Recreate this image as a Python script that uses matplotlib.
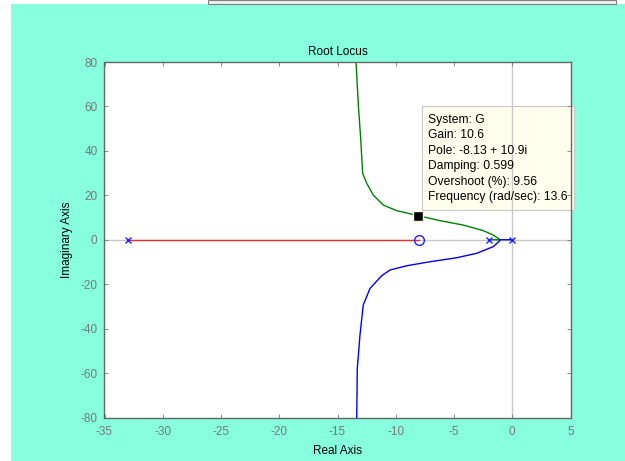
import numpy as np
import matplotlib.pyplot as plt
from matplotlib.patches import Rectangle

plt.rcParams['font.family'] = ['Liberation Sans', 'DejaVu Sans']
plt.rcParams['axes.unicode_minus'] = False

# poles / zero
poles = [-33, -2, 0]
zeros = [-8]

# branch along the real axis (pole -33 -> zero -8)
red_re = [-33, -8]
red_im = [0, 0]

# upper branch (green): from pole -2 to breakaway, then up
green_re = [-2.0, -1.05, -1.2, -1.63, -2.49, -4.2, -6.2, -8.13, -9.92, -11.07, -11.93, -12.49, -12.84, -13.01, -13.21, -13.41]
green_im = [0.0, 0.0, 0.6, 2.1, 4.1, 6.6, 8.6, 10.9, 13.1, 15.6, 20.1, 25.4, 29.9, 45.6, 60.6, 80.0]

# lower branch (blue): from pole 0 to breakaway, then down
blue_re = [0.0, -1.05, -1.1, -1.63, -3.05, -4.77, -7.06, -9.06, -10.49, -11.21, -12.21, -12.79, -13.07, -13.3, -13.35]
blue_im = [0.0, 0.0, -0.6, -3.1, -6.1, -8.1, -9.9, -11.7, -13.6, -16.2, -21.9, -29.4, -42.9, -57.9, -80.0]

# data cursor
cursor = (-8.13, 10.9)
cursor_text = ["System: G", "Gain: 10.6", "Pole: -8.13 + 10.9i", "Damping: 0.599",
               "Overshoot (%): 9.56", "Frequency (rad/sec): 13.6"]

xticks = [-35, -30, -25, -20, -15, -10, -5, 0, 5]
yticks = [-80, -60, -40, -20, 0, 20, 40, 60, 80]

W, H = 625, 461
fig = plt.figure(figsize=(W / 100, H / 100), dpi=100, facecolor='white')

# window background + top strip
fig.patches.append(Rectangle((11 / W, 0), 1 - 11 / W, (H - 4) / H, transform=fig.transFigure,
                             facecolor='#87ffde', edgecolor='none', zorder=-10))
fig.patches.append(Rectangle((208 / W, (H - 4) / H), 408 / W, 4 / H, transform=fig.transFigure,
                             facecolor='#f0f0f0', edgecolor='#808080', lw=0.8, zorder=-10))

ax = fig.add_axes([104.5 / W, (H - 417.5) / H, 466 / W, 355.5 / H])
ax.set_facecolor('white')

# tooltip box (under the grey origin line, sticks out past the right spine)
ax.add_patch(Rectangle((-7.75, 13.4), 13.05, 46.8, fc='#ffffee', ec='#c8c8c8', lw=0.8,
                       zorder=0.5, clip_on=False))

# grey reference lines through the origin
ax.axhline(0, color='#c8c8c8', lw=1, zorder=1)
ax.axvline(0, color='#c8c8c8', lw=1, zorder=1)

ax.plot(red_re, red_im, color='#dd3030', lw=1, zorder=2)
ax.plot(green_re, green_im, color='#008000', lw=1, zorder=2)
ax.plot(blue_re, blue_im, color='#0000ff', lw=1, zorder=2)

ax.plot(poles, [0] * len(poles), 'x', color='#2020ff', ms=4, mew=1, zorder=3)
ax.plot(zeros, [0] * len(zeros), 'o', mfc='none', mec='#2020ff', ms=7, mew=1, zorder=3)

ax.plot(cursor[0], cursor[1], 's', color='black', mec='#fffbd0', ms=7, mew=1, zorder=5)

for i, line in enumerate(cursor_text):
    ax.text(-7.25, 53.9 - i * 6.93, line, fontsize=8.7, va='center', ha='left', zorder=7)

ax.set_xlim(-35, 5)
ax.set_ylim(-80, 80)
ax.set_xticks(xticks)
ax.set_yticks(yticks)
ax.tick_params(direction='in', length=3, width=0.6, colors='#777777', labelsize=8.5,
               top=True, right=True, labelcolor='#777777')
ax.tick_params(axis='x', pad=6)
ax.tick_params(axis='y', pad=5)
for s in ax.spines.values():
    s.set_color('#666666')
    s.set_linewidth(1)

ax.set_title("Root Locus", fontsize=8.5, pad=5)
ax.set_xlabel("Real Axis", fontsize=8.5, labelpad=5)
ax.set_ylabel("Imaginary Axis", fontsize=8.5, labelpad=5)

fig.savefig("out.png", dpi=100, facecolor=fig.get_facecolor())
